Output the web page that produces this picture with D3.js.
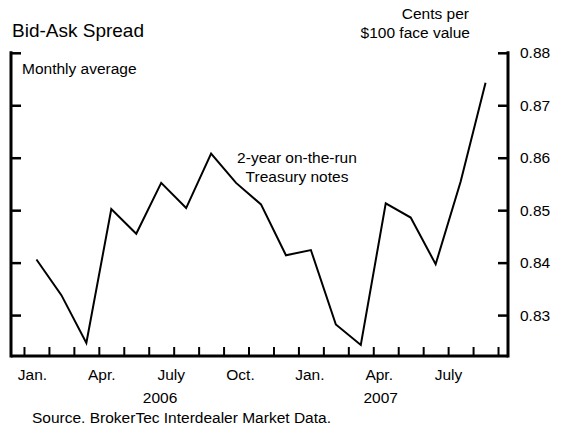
<!DOCTYPE html>
<html>
<head>
<meta charset="utf-8">
<script src="https://cdn.jsdelivr.net/npm/d3@7"></script>
<style>
  html, body { margin: 0; padding: 0; background: #fff; }
  svg { display: block; }
  text { font-family: "Liberation Sans", Arial, sans-serif; fill: #000; }
</style>
</head>
<body>
<svg id="chart" width="566" height="429"></svg>
<script>
// ---- Data ----
const months = ["Jan 2006","Feb 2006","Mar 2006","Apr 2006","May 2006","Jun 2006","Jul 2006","Aug 2006","Sep 2006","Oct 2006","Nov 2006","Dec 2006","Jan 2007","Feb 2007","Mar 2007","Apr 2007","May 2007","Jun 2007","Jul 2007"];
const spread = [0.8406, 0.8338, 0.8247, 0.8502, 0.8455, 0.8552, 0.8504, 0.8608, 0.8552, 0.8511, 0.8414, 0.8424, 0.8282, 0.8243, 0.8513, 0.8486, 0.8397, 0.8554, 0.8743];
const yTicks = [0.83, 0.84, 0.85, 0.86, 0.87, 0.88];
const monthLabels = ["Jan.", "Apr.", "July", "Oct.", "Jan.", "Apr.", "July"];
const yearLabels = ["2006", "2007"];

// ---- Layout ----
const svg = d3.select("#chart");
const plotL = 11, plotR = 508, plotT = 52.8, plotB = 356;
const fs = "15.5px";

const x = d3.scaleLinear().domain([-0.52, 19.4]).range([plotL, plotR]);
const y = d3.scaleLinear().domain([0.8222, 0.88]).range([plotB, plotT]);
const labelX = d3.scalePoint().domain(d3.range(monthLabels.length)).range([32.5, 448.5]);

// Axes frame
const g = svg.append("g");
g.append("line").attr("x1", plotL).attr("x2", plotL).attr("y1", plotT - 1.5).attr("y2", plotB + 1.5)
  .attr("stroke", "#000").attr("stroke-width", 3);
g.append("line").attr("x1", plotR).attr("x2", plotR).attr("y1", plotT - 1.5).attr("y2", plotB + 1.5)
  .attr("stroke", "#000").attr("stroke-width", 3);
g.append("line").attr("x1", plotL).attr("x2", plotR).attr("y1", plotB).attr("y2", plotB)
  .attr("stroke", "#000").attr("stroke-width", 3);

// Left axis: ticks pointing inward, no labels
const leftAxis = d3.axisRight(y).tickValues(yTicks).tickSize(10).tickFormat("");
g.append("g").attr("transform", `translate(${plotL},0)`).call(leftAxis)
  .call(s => { s.select(".domain").remove(); s.selectAll(".tick line").attr("stroke-width", 2.5); });

// Right axis: ticks inward, labels outside
const rightAxis = d3.axisLeft(y).tickValues(yTicks).tickSize(10).tickFormat(d3.format(".2f"));
const ra = g.append("g").attr("transform", `translate(${plotR},0)`).call(rightAxis);
ra.select(".domain").remove();
ra.selectAll(".tick line").attr("stroke-width", 2.5);
ra.selectAll(".tick text").attr("x", 12).attr("text-anchor", "start")
  .style("font-family", "'Liberation Sans', Arial, sans-serif").style("font-size", fs).attr("fill", "#000");

// Bottom axis: month boundary ticks pointing up
const xAxis = d3.axisTop(x).tickValues(d3.range(0, 20)).tickSize(9).tickFormat("");
g.append("g").attr("transform", `translate(0,${plotB})`).call(xAxis)
  .call(s => { s.select(".domain").remove(); s.selectAll(".tick line").attr("stroke-width", 2); });

// Month labels
svg.append("g").selectAll("text").data(monthLabels).join("text")
  .attr("x", (d, i) => labelX(i)).attr("y", 380).attr("text-anchor", "middle")
  .style("font-size", fs).text(d => d);

// Year labels
const yearCenters = [labelX(0) + (labelX(2) - labelX(0)) * 0.92, labelX(5) + 1.5];
svg.append("g").selectAll("text").data(yearLabels).join("text")
  .attr("x", (d, i) => yearCenters[i]).attr("y", 403).attr("text-anchor", "middle")
  .style("font-size", fs).text(d => d);

// Line
const line = d3.line().x((d, i) => x(i + 0.5)).y(d => y(d));
svg.append("path").datum(spread).attr("d", line)
  .attr("fill", "none").attr("stroke", "#000").attr("stroke-width", 2).attr("stroke-linejoin", "miter");

// Texts
svg.append("text").attr("x", 12).attr("y", 37).style("font-size", "19px").text("Bid-Ask Spread");
svg.append("text").attr("x", 469).attr("y", 19).attr("text-anchor", "end").style("font-size", fs).text("Cents per");
svg.append("text").attr("x", 470).attr("y", 38).attr("text-anchor", "end").style("font-size", fs).text("$100 face value");
svg.append("text").attr("x", 22).attr("y", 74).style("font-size", fs).text("Monthly average");
svg.append("text").attr("x", 297).attr("y", 163).attr("text-anchor", "middle").style("font-size", fs).text("2-year on-the-run");
svg.append("text").attr("x", 297).attr("y", 182).attr("text-anchor", "middle").style("font-size", fs).text("Treasury notes");
svg.append("text").attr("x", 32).attr("y", 423).style("font-size", fs).text("Source. BrokerTec Interdealer Market Data.");
</script>
</body>
</html>
